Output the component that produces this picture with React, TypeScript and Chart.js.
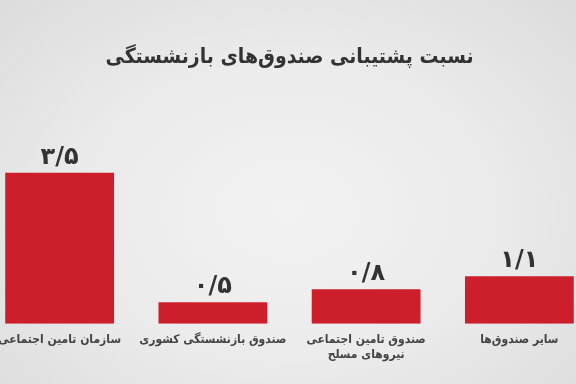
import React, { useEffect, useRef } from "react";
import { Chart, registerables } from "chart.js";

Chart.register(...registerables);

const TITLE = "نسبت پشتیبانی صندوق‌های بازنشستگی";
const categories: (string | string[])[] = [
  "سازمان تامین اجتماعی",
  "صندوق بازنشستگی کشوری",
  ["صندوق تامین اجتماعی", "نیروهای مسلح"],
  "سایر صندوق‌ها",
];
const values = [3.5, 0.5, 0.8, 1.1];
const valueLabels = ["۳/۵", "۰/۵", "۰/۸", "۱/۱"];

const FONT = "'DejaVu Sans Condensed', 'DejaVu Sans', sans-serif";
const BAR_COLOR = "#cc1f2b";

const valueLabelPlugin = {
  id: "valueLabels",
  afterDatasetsDraw(chart: any) {
    const ctx = chart.ctx;
    const meta = chart.getDatasetMeta(0);
    ctx.save();
    ctx.font = `bold 24px 'DejaVu Sans', sans-serif`;
    ctx.fillStyle = "#333333";
    ctx.textAlign = "center";
    ctx.textBaseline = "alphabetic";
    meta.data.forEach((bar: any, i: number) => {
      ctx.fillText(valueLabels[i], bar.x, bar.y - 9);
    });
    ctx.restore();
  },
};

export default function App() {
  const ref = useRef<HTMLCanvasElement | null>(null);
  useEffect(() => {
    if (!ref.current) return;
    const chart = new Chart(ref.current, {
      type: "bar",
      data: {
        labels: categories,
        datasets: [
          {
            data: values,
            backgroundColor: BAR_COLOR,
            borderWidth: 0,
            categoryPercentage: 1,
            barPercentage: 0.71,
          },
        ],
      },
      options: {
        responsive: false,
        animation: false,
        devicePixelRatio: 1,
        layout: { padding: { left: 0, right: 0, top: 0, bottom: 13 } },
        plugins: {
          legend: { display: false },
          tooltip: { enabled: false },
          title: {
            display: true,
            text: TITLE,
            color: "#333333",
            font: { family: FONT, size: 21, weight: "bold" },
            padding: { top: 45, bottom: 81 },
          },
        },
        scales: {
          x: {
            grid: { display: false, drawTicks: false, tickLength: 0 },
            border: { display: false },
            ticks: {
              color: "#444444",
              font: { family: FONT, size: 12, weight: "bold", lineHeight: 1.3 },
              padding: 8,
              maxRotation: 0,
              autoSkip: false,
            },
          },
          y: {
            display: false,
            min: 0,
            max: 4,
          },
        },
      },
      plugins: [valueLabelPlugin],
    });
    return () => chart.destroy();
  }, []);
  return (
    <div
      style={{
        position: "fixed",
        left: 0,
        top: 0,
        width: 576,
        height: 384,
        overflow: "hidden",
        background:
          "radial-gradient(ellipse at 50% 55%, #f2f2f2 0%, #ebebeb 50%, #dcdcdc 100%)",
      }}
    >
      <canvas
        ref={ref}
        width={613}
        height={384}
        style={{ position: "absolute", left: -17, top: 0, width: 613, height: 384 }}
      />
    </div>
  );
}
